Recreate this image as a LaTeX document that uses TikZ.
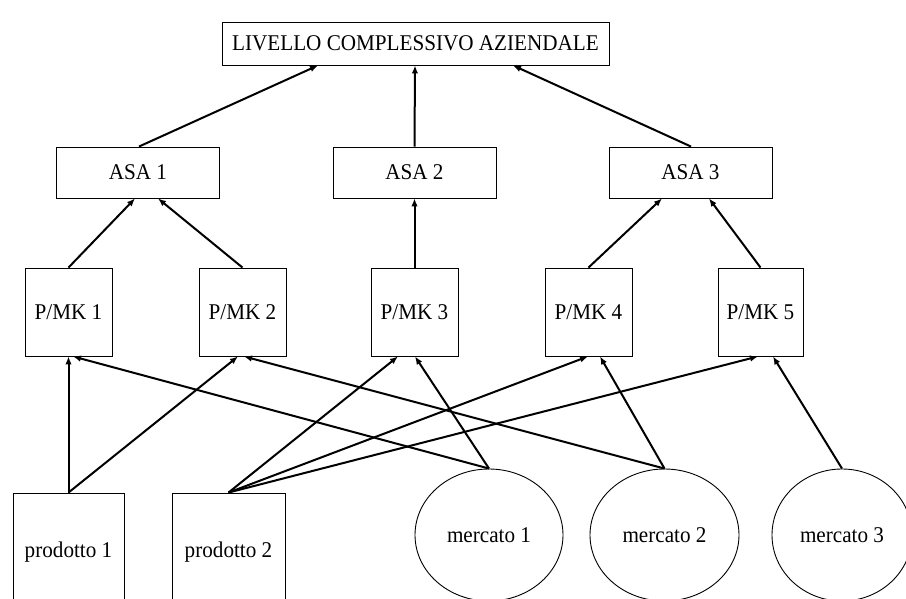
\documentclass[tikz,border=0pt]{standalone}
\usepackage{fontspec}
\setmainfont{Liberation Serif}[FakeStretch=0.94]
\usetikzlibrary{shapes.geometric,arrows.meta}
\begin{document}
\begin{tikzpicture}[x=1pt,y=-1pt,
  lbl/.style={font=\fontsize{22.5}{27}\selectfont},
  box/.style={lbl,draw,line width=0.9pt,inner sep=0pt},
  oval/.style={lbl,ellipse,draw,line width=0.9pt,inner sep=0pt,minimum height=132pt},
  link/.style={line width=2pt,-{Latex[length=8pt,width=6.5pt]}}]
\useasboundingbox (0,0) rectangle (906,599);
\clip (0,0) rectangle (906,599);
\fill[white] (0,0) rectangle (906,599);

% company level
\node[box,minimum width=387pt,minimum height=43pt] (top) at (415.5,43.5) {LIVELLO COMPLESSIVO AZIENDALE};

% strategic business areas
\node[box,minimum width=163pt,minimum height=51pt] (asa1) at (138,172.5) {ASA 1};
\node[box,minimum width=163pt,minimum height=51pt] (asa2) at (414.5,172.5) {ASA 2};
\node[box,minimum width=163pt,minimum height=51pt] (asa3) at (690.5,172.5) {ASA 3};

% product/market combinations
\node[box,minimum width=87pt,minimum height=88pt] (pm1) at (68.5,312) {P/MK 1};
\node[box,minimum width=87pt,minimum height=88pt] (pm2) at (242.5,312) {P/MK 2};
\node[box,minimum width=87pt,minimum height=88pt] (pm3) at (414.5,312) {P/MK 3};
\node[box,minimum width=87pt,minimum height=88pt] (pm4) at (588.5,312) {P/MK 4};
\node[box,minimum width=85pt,minimum height=88pt] (pm5) at (760.5,312) {P/MK 5};

% products
\node[box,minimum width=111pt,minimum height=118pt] (pr1) at (68.5,552) {prodotto 1};
\node[box,minimum width=113pt,minimum height=118pt] (pr2) at (228.5,552) {prodotto 2};

% markets
\node[oval,minimum width=148pt] (m1) at (489,535) {mercato 1};
\node[oval,minimum width=149pt] (m2) at (664.5,535) {mercato 2};
\node[oval,minimum width=140pt] (m3) at (842,535) {mercato 3};

% ASA -> company level
\draw[link] ([xshift=1pt]asa1.north) -- ([xshift=-97.5pt]top.south);
\draw[link] (asa2.north) -- ([xshift=-0.5pt]top.south);
\draw[link] ([xshift=0.5pt]asa3.north) -- ([xshift=97.5pt]top.south);

% P/MK -> ASA
\draw[link] (pm1.north) -- ([xshift=-3pt]asa1.south);
\draw[link] (pm2.north) -- ([xshift=20pt]asa1.south);
\draw[link] (pm3.north) -- (asa2.south);
\draw[link] (pm4.north) -- ([xshift=-28.5pt]asa3.south);
\draw[link] (pm5.north) -- ([xshift=18.5pt]asa3.south);

% products -> P/MK
\draw[link] (pr1.north) -- (pm1.south);
\draw[link] (pr1.north) -- ([xshift=-4.5pt]pm2.south);
\draw[link] (pr2.north) -- ([xshift=-16.5pt]pm3.south);
\draw[link] (pr2.north) -- ([xshift=-0.5pt]pm4.south);
\draw[link] (pr2.north) -- ([xshift=-2.5pt]pm5.south);

% markets -> P/MK
\draw[link] (m1.north) -- ([xshift=4.5pt]pm1.south);
\draw[link] (m1.north) -- ([xshift=0.5pt]pm3.south);
\draw[link] (m2.north) -- ([xshift=1.5pt]pm2.south);
\draw[link] (m2.north) -- ([xshift=11.5pt]pm4.south);
\draw[link] (m3.north) -- ([xshift=12.5pt]pm5.south);
\end{tikzpicture}
\end{document}
